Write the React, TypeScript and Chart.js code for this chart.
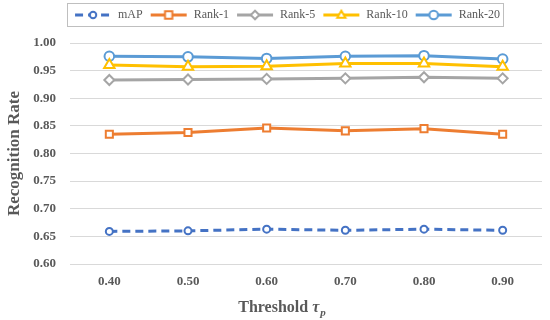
import React, { useEffect, useRef } from "react";
import { Chart, registerables } from "chart.js";

Chart.register(...registerables);

const categories = ["0.40", "0.50", "0.60", "0.70", "0.80", "0.90"];
const mAPValues = [0.659, 0.66, 0.663, 0.661, 0.663, 0.661];
const rank1Values = [0.835, 0.838, 0.846, 0.841, 0.845, 0.835];
const rank5Values = [0.933, 0.934, 0.935, 0.936, 0.938, 0.936];
const rank10Values = [0.96, 0.957, 0.958, 0.963, 0.963, 0.957];
const rank20Values = [0.976, 0.975, 0.972, 0.976, 0.977, 0.971];
const seriesNames = ["mAP", "Rank-1", "Rank-5", "Rank-10", "Rank-20"];
const yMin = 0.6;
const yMax = 1.0;
const yStep = 0.05;

const colors = ["#4472C4", "#ED7D31", "#A5A5A5", "#FFC000", "#5B9BD5"];
const styles = ["circle", "rect", "rectRot", "triangle", "circle"];
const radii = [3.5, 5, 5, 6, 4.8];
const TEXT = "#595959";
const SERIF = "'Liberation Serif', 'Times New Roman', serif";

function drawMarker(ctx: CanvasRenderingContext2D, style: string, x: number, y: number, r: number) {
  ctx.beginPath();
  if (style === "circle") {
    ctx.arc(x, y, r, 0, Math.PI * 2);
  } else if (style === "rect") {
    const s = r * 0.85;
    ctx.rect(x - s, y - s, 2 * s, 2 * s);
  } else if (style === "rectRot") {
    ctx.moveTo(x, y - r);
    ctx.lineTo(x + r, y);
    ctx.lineTo(x, y + r);
    ctx.lineTo(x - r, y);
    ctx.closePath();
  } else if (style === "triangle") {
    const h = r;
    ctx.moveTo(x, y - h);
    ctx.lineTo(x + h * 0.95, y + h * 0.65);
    ctx.lineTo(x - h * 0.95, y + h * 0.65);
    ctx.closePath();
  }
  ctx.fillStyle = "#fff";
  ctx.fill();
  ctx.stroke();
}

function legendImage(i: number): HTMLCanvasElement {
  const c = document.createElement("canvas");
  c.width = 38;
  c.height = 14;
  const ctx = c.getContext("2d")!;
  ctx.strokeStyle = colors[i];
  ctx.lineWidth = 3;
  if (i === 0) ctx.setLineDash([8, 5]);
  ctx.beginPath();
  ctx.moveTo(1, 7);
  ctx.lineTo(37, 7);
  ctx.stroke();
  ctx.setLineDash([]);
  ctx.lineWidth = 2;
  drawMarker(ctx, styles[i], 19, 7, i === 0 ? 3.2 : 4.3);
  return c;
}

const legendTweaks = {
  id: "legendTweaks",
  beforeLayout(chart: any) {
    const lg = chart.legend;
    if (lg && !lg.__patched) {
      const orig = lg.fit.bind(lg);
      lg.fit = function () {
        orig();
        this.height += 12;
      };
      lg.__patched = true;
    }
  },
  afterLayout(chart: any) {
    const lg = chart.legend;
    if (lg) {
      lg.left += 14;
      lg.right += 14;
    }
  },
};

const legendBorder = {
  id: "legendBorder",
  afterDraw(chart: any) {
    const boxes = chart.legend?.legendHitBoxes;
    if (!boxes || !boxes.length) return;
    let l = Infinity, r = -Infinity, t = Infinity, b = -Infinity;
    for (const h of boxes) {
      l = Math.min(l, h.left);
      r = Math.max(r, h.left + h.width);
      t = Math.min(t, h.top);
      b = Math.max(b, h.top + h.height);
    }
    const ctx = chart.ctx;
    ctx.save();
    ctx.strokeStyle = "#BFBFBF";
    ctx.lineWidth = 1;
    ctx.strokeRect(Math.round(l - 7) + 0.5, Math.round(t - 6) + 0.5, Math.round(r - l + 10), Math.round(b - t + 11));
    ctx.restore();
  },
};

const xTitle = {
  id: "xTitle",
  afterDraw(chart: any) {
    const ctx = chart.ctx;
    ctx.save();
    ctx.fillStyle = TEXT;
    ctx.textBaseline = "alphabetic";
    const f1 = `bold 16px ${SERIF}`;
    const f2 = `italic bold 16px ${SERIF}`;
    const f3 = `italic bold 11px ${SERIF}`;
    const p1 = "Threshold ";
    const p2 = "τ";
    const p3 = "p";
    ctx.font = f1;
    const w1 = ctx.measureText(p1).width;
    ctx.font = f2;
    const w2 = ctx.measureText(p2).width;
    ctx.font = f3;
    const w3 = ctx.measureText(p3).width;
    const total = w1 + w2 + w3 + 1;
    const cx = 282;
    let x = cx - total / 2;
    const y = 312;
    ctx.font = f1;
    ctx.fillText(p1, x, y);
    x += w1;
    ctx.font = f2;
    ctx.fillText(p2, x, y);
    x += w2 + 1;
    ctx.font = f3;
    ctx.fillText(p3, x, y + 4);
    ctx.restore();
  },
};

export default function App() {
  const ref = useRef<HTMLCanvasElement>(null);
  useEffect(() => {
    const allValues = [mAPValues, rank1Values, rank5Values, rank10Values, rank20Values];
    const images = seriesNames.map((_, i) => legendImage(i));
    const chart = new Chart(ref.current!, {
      type: "line",
      data: {
        labels: categories,
        datasets: seriesNames.map((name, i) => ({
          label: name,
          data: allValues[i],
          borderColor: colors[i],
          backgroundColor: "#fff",
          borderWidth: 3,
          borderDash: i === 0 ? [8, 5] : [],
          pointStyle: styles[i] as any,
          pointRadius: radii[i],
          pointBorderWidth: 2,
          pointBorderColor: colors[i],
          pointBackgroundColor: "#fff",
          tension: 0,
          fill: false,
        })),
      },
      options: {
        animation: false,
        responsive: false,
        layout: { padding: { top: 2, right: 4, left: 0, bottom: 0 } },
        plugins: {
          tooltip: { enabled: false },
          legend: {
            display: true,
            position: "top",
            labels: {
              usePointStyle: true,
              pointStyleWidth: 38,
              padding: 7,
              color: TEXT,
              font: { family: SERIF, size: 12 },
              generateLabels: (c: any) =>
                c.data.datasets.map((d: any, i: number) => ({
                  text: d.label,
                  pointStyle: images[i],
                  fillStyle: "#fff",
                  strokeStyle: colors[i],
                  lineWidth: 0,
                  hidden: false,
                  datasetIndex: i,
                  fontColor: TEXT,
                })),
            },
          },
        },
        scales: {
          x: {
            offset: true,
            grid: { display: false, drawTicks: false },
            border: { display: false },
            ticks: { color: TEXT, font: { family: SERIF, size: 13, weight: "bold" }, padding: 10 },
            afterFit: (s: any) => {
              s.height = 56;
            },
          },
          y: {
            min: yMin,
            max: yMax,
            grid: { color: "#D9D9D9", lineWidth: 1, drawTicks: false },
            border: { display: false },
            ticks: {
              stepSize: yStep,
              color: TEXT,
              padding: 14,
              font: { family: SERIF, size: 13, weight: "bold" },
              callback: (v: any) => Number(v).toFixed(2),
            },
            title: {
              display: true,
              text: "Recognition Rate",
              color: TEXT,
              font: { family: SERIF, size: 17, weight: "bold" },
              padding: { top: 4, bottom: 4 },
            },
            afterFit: (s: any) => {
              s.width = 70;
            },
          },
        },
      },
      plugins: [legendTweaks, legendBorder, xTitle],
    });
    return () => chart.destroy();
  }, []);
  return (
    <div style={{ position: "absolute", left: 0, top: 0, width: 550, height: 320, background: "#fff" }}>
      <canvas ref={ref} width={550} height={320} />
    </div>
  );
}
